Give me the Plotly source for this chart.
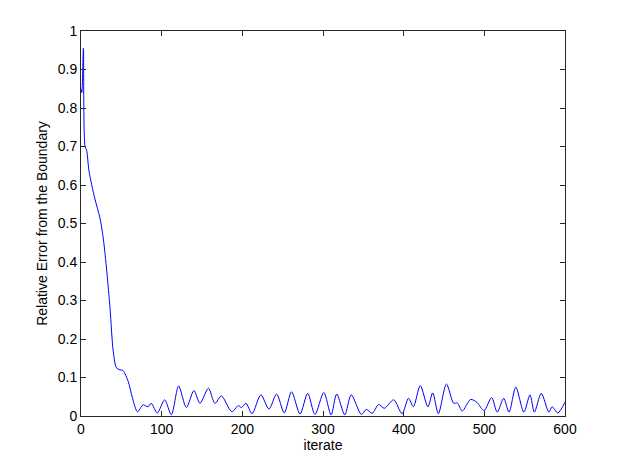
import plotly.graph_objects as go

# iterate / relative error points (peaks and troughs)
iterate = [0, 1, 3, 5, 7, 10, 17, 23.5, 27.7, 32, 36, 40, 44, 48, 52, 58.6, 64, 70,
           77, 83, 87, 94.6, 103.7, 112, 121, 130.6, 140, 147.5, 158, 166, 174, 187,
           195, 199, 204.5, 212, 223, 233, 242.5, 252, 261, 271.5, 281, 290, 301,
           310, 317, 327, 335, 347.5, 353.7, 361, 369, 376, 387.6, 398, 406, 412,
           420.6, 430, 436, 443, 453, 462, 466.5, 472.6, 483, 491, 499.6, 509, 516,
           524, 530.6, 539, 549, 556.6, 562, 570.6, 580, 584, 591, 600]
rel_error = [0.85, 0.84, 0.955, 0.70, 0.69, 0.635, 0.566, 0.514, 0.46, 0.375, 0.28, 0.167,
             0.125, 0.12, 0.118, 0.089, 0.045, 0.011,
             0.029, 0.024, 0.033, 0.008, 0.042, 0.003, 0.078, 0.022, 0.066, 0.033,
             0.072, 0.033, 0.052, 0.011, 0.027, 0.022, 0.033, 0.006, 0.055, 0.018,
             0.057, 0.008, 0.063, 0.005, 0.059, 0.004, 0.061, 0.003, 0.057, 0.003,
             0.055, 0.004, 0.017, 0.007, 0.030, 0.020, 0.042, 0.006, 0.046, 0.024,
             0.079, 0.024, 0.060, 0.006, 0.083, 0.033, 0.034, 0.013, 0.043, 0.035,
             0.014, 0.048, 0.010, 0.046, 0.010, 0.075, 0.010, 0.055, 0.010, 0.059,
             0.010, 0.024, 0.008, 0.036]

x_ticks = [0, 100, 200, 300, 400, 500, 600]
y_ticks = [0, 0.1, 0.2, 0.3, 0.4, 0.5, 0.6, 0.7, 0.8, 0.9, 1]
y_labels = ["0", "0.1", "0.2", "0.3", "0.4", "0.5", "0.6", "0.7", "0.8", "0.9", "1"]

fig = go.Figure(go.Scatter(x=iterate, y=rel_error, mode="lines",
                           line=dict(color="#0000ff", width=1, shape="spline", smoothing=0.8)))

axis_style = dict(showline=True, linecolor="#262626", linewidth=1, mirror="ticks",
                  ticks="inside", ticklen=5, tickcolor="#262626", showgrid=False,
                  zeroline=False, tickfont=dict(size=14, color="black"))

fig.update_xaxes(range=[0, 600], tickvals=x_ticks, title=dict(text="iterate", standoff=2,
                 font=dict(size=14, color="black")), **axis_style)
fig.update_yaxes(range=[0, 1], tickvals=y_ticks, ticktext=y_labels,
                 title=dict(text="Relative Error from the Boundary", standoff=6,
                            font=dict(size=14, color="black")), **axis_style)

# page body keeps an 8px margin, so the figure is shifted by that
fig.update_layout(width=615, height=461, plot_bgcolor="white", paper_bgcolor="white",
                  margin=dict(l=73, r=58, t=23, b=53), showlegend=False,
                  font=dict(family="Liberation Sans, Arial, sans-serif"))

fig.write_html("out.html")
